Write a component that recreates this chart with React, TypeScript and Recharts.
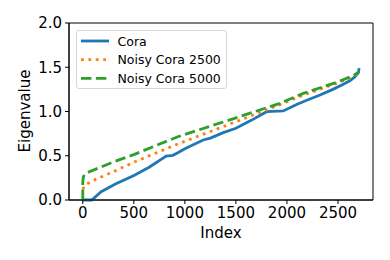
import { Line, LineChart, ReferenceArea, XAxis, YAxis } from "recharts";

// eigenvalue spectra (index, eigenvalue)
const coraIndex = [0, 88, 180, 320, 506, 650, 817, 882, 931, 1000, 1180, 1250, 1376, 1500, 1650, 1801, 1964, 2095, 2200, 2324, 2450, 2552, 2620, 2667, 2700, 2707];
const coraValues = [0, 0, 0.094, 0.18, 0.28, 0.37, 0.497, 0.505, 0.535, 0.58, 0.678, 0.7, 0.761, 0.81, 0.9, 0.998, 1.006, 1.08, 1.13, 1.186, 1.25, 1.307, 1.35, 1.393, 1.44, 1.49];

const noisy2500Index = [0, 23, 100, 300, 506, 931, 1400, 1898, 2160, 2487, 2650, 2707];
const noisy2500Values = [0.12, 0.17, 0.22, 0.32, 0.43, 0.633, 0.84, 1.062, 1.186, 1.318, 1.395, 1.44];

const noisy5000Index = [0, 0, 5, 20, 65, 300, 506, 931, 1400, 1931, 2160, 2487, 2650, 2707];
const noisy5000Values = [0, 0.2, 0.26, 0.29, 0.32, 0.43, 0.516, 0.715, 0.89, 1.092, 1.205, 1.33, 1.405, 1.45];

const xTicks = [0, 500, 1000, 1500, 2000, 2500];
const yTicks = [0, 0.5, 1, 1.5, 2];

const toPoints = (xs: number[], ys: number[]) => xs.map((x, i) => ({ x, y: ys[i] }));

const series = [
  { name: "Cora", color: "#1f77b4", dash: undefined as string | undefined, data: toPoints(coraIndex, coraValues) },
  { name: "Noisy Cora 2500", color: "#ff7f0e", dash: "2.8 4.6", data: toPoints(noisy2500Index, noisy2500Values) },
  { name: "Noisy Cora 5000", color: "#2ca02c", dash: "10.4 4.5", data: toPoints(noisy5000Index, noisy5000Values) },
];

const font = "'DejaVu Sans', sans-serif";

function LegendBox() {
  return (
    <div
      style={{
        position: "absolute",
        left: 76,
        top: 30,
        width: 149,
        height: 57,
        border: "1px solid #d6d6d6",
        borderRadius: 3,
        background: "rgba(255,255,255,0.8)",
      }}
    >
      <svg width={149} height={57} style={{ display: "block" }}>
        {series.map((s, i) => (
          <g key={s.name}>
            <line
              x1={4}
              x2={32}
              y1={10 + i * 18.7}
              y2={10 + i * 18.7}
              stroke={s.color}
              strokeWidth={2.8}
              strokeDasharray={s.dash}
            />
            <text x={40.5} y={10 + i * 18.7} dominantBaseline="central" fontSize={12.5} fontFamily={font} fill="#000">
              {s.name}
            </text>
          </g>
        ))}
      </svg>
    </div>
  );
}

export default function App() {
  return (
    <div style={{ position: "absolute", left: 0, top: 0, width: 390, height: 260, background: "#fff" }}>
      <LineChart width={390} height={260} margin={{ top: 23, right: 17, left: 0, bottom: 0 }}>
        <XAxis
          dataKey="x"
          type="number"
          domain={[-135, 2843]}
          ticks={xTicks}
          allowDuplicatedCategory={false}
          height={60}
          tickSize={4}
          tickMargin={3.5}
          stroke="#000"
          tick={{ fill: "#000", fontSize: 15, fontFamily: font }}
          label={{
            content: () => (
              <text x={221} y={233} textAnchor="middle" dominantBaseline="central" fontSize={15} fontFamily={font} fill="#000">
                Index
              </text>
            ),
          }}
        />
        <YAxis
          dataKey="y"
          type="number"
          domain={[0, 2]}
          ticks={yTicks}
          width={69}
          tickSize={4}
          tickMargin={3}
          stroke="#000"
          tickFormatter={(v: number) => v.toFixed(1)}
          tick={{ fill: "#000", fontSize: 15, fontFamily: font }}
          label={{
            content: () => (
              <text
                x={25}
                y={111}
                transform="rotate(-90 25 111)"
                textAnchor="middle"
                dominantBaseline="central"
                fontSize={15}
                fontFamily={font}
                fill="#000"
              >
                Eigenvalue
              </text>
            ),
          }}
        />
        <ReferenceArea x1={-135} x2={2843} y1={0} y2={2} fill="none" stroke="#000" strokeWidth={1} ifOverflow="visible" />
        {series.map((s) => (
          <Line
            key={s.name}
            data={s.data}
            dataKey="y"
            name={s.name}
            type="linear"
            stroke={s.color}
            strokeWidth={2.8}
            strokeDasharray={s.dash}
            dot={false}
            activeDot={false}
            isAnimationActive={false}
          />
        ))}
      </LineChart>
      <LegendBox />
    </div>
  );
}
